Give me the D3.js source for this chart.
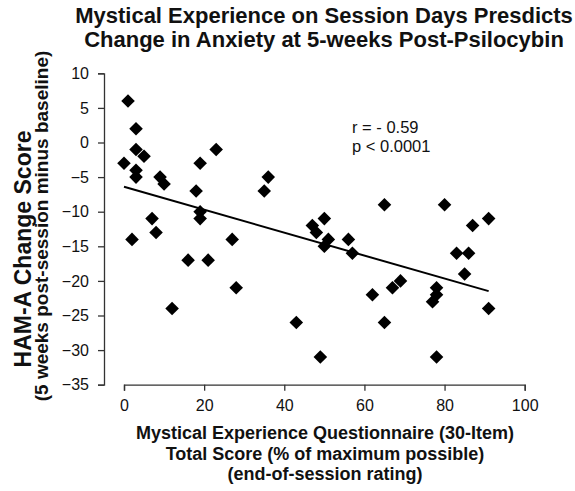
<!DOCTYPE html>
<html>
<head>
<meta charset="utf-8">
<script src="https://cdn.jsdelivr.net/npm/d3@7"></script>
<style>
  body { margin: 0; background: #fff; }
  text { font-family: "Liberation Sans", Arial, sans-serif; fill: #111; }
</style>
</head>
<body>
<div id="chart"></div>
<script>
// MEQ total score (% of max) and HAM-A change score, one entry per participant
const meqScore = [0, 1, 2, 3, 3, 3, 3, 5, 7, 8, 9, 10, 12, 16, 18, 19, 19, 19, 21, 23,
                  27, 28, 35, 36, 43, 47, 48, 49, 50, 50, 51, 56, 57, 62, 65, 65, 67, 69,
                  77, 78, 78, 78, 80, 83, 85, 86, 87, 91, 91]
const hamChange = [-3, 6, -14, 2, -1, -4, -5, -2, -11, -13, -5, -6, -24, -17, -7, -3, -10, -11, -17, -1,
                   -14, -21, -7, -5, -26, -12, -13, -31, -11, -15, -14, -14, -16, -22, -9, -26, -21, -20,
                   -23, -21, -22, -31, -9, -16, -19, -16, -12, -11, -24]
const xTicks = [0, 20, 40, 60, 80, 100]
const yTicks = [10, 5, 0, -5, -10, -15, -20, -25, -30, -35]
const fitIntercept = -6.4
const fitSlope = -0.1657
const statsText = ['r = - 0.59', 'p < 0.0001']

const width = 575
const height = 491

const svg = d3.select('#chart').append('svg')
              .attr('width', width)
              .attr('height', height)

const x = d3.scaleLinear().domain([0, 100]).range([124, 524.7])
const y = d3.scaleLinear().domain([-35, 10]).range([384.7, 73.3])

// axes
const xAxis = svg.append('g')
    .attr('transform', `translate(0,${y(-35)})`)
    .call(d3.axisBottom(x).tickValues(xTicks).tickSize(6).tickPadding(9))
const yAxis = svg.append('g')
    .attr('transform', 'translate(104,0)')
    .call(d3.axisLeft(y).tickValues(yTicks).tickSize(6).tickPadding(9))

svg.selectAll('.domain, .tick line')
   .attr('stroke', '#333')
   .attr('stroke-width', 1.3)
svg.selectAll('.tick text')
   .attr('font-size', 16)
   .attr('font-family', '"Liberation Sans", Arial, sans-serif')
   .attr('fill', '#111')

// points
const pts = meqScore.map((d, i) => ({ x: d, y: hamChange[i] }))
svg.append('g').selectAll('path')
   .data(pts)
   .join('path')
   .attr('d', d3.symbol(d3.symbolSquare, 92))
   .attr('transform', d => `translate(${x(d.x)},${y(d.y)}) rotate(45)`)
   .attr('fill', '#000')

// regression line
const xExt = d3.extent(meqScore)
const fitPts = xExt.map(v => [v, fitIntercept + fitSlope * v])
svg.append('path')
   .datum(fitPts)
   .attr('d', d3.line().x(d => x(d[0])).y(d => y(d[1])))
   .attr('stroke', '#000')
   .attr('stroke-width', 2)
   .attr('fill', 'none')

// r / p annotation
svg.append('g').selectAll('text')
   .data(statsText)
   .join('text')
   .attr('x', 352)
   .attr('y', (d, i) => 133 + i * 19)
   .attr('font-size', 16.5)
   .text(d => d)

// title
const titleLines = ['Mystical Experience on Session Days Presdicts', 'Change in Anxiety at 5-weeks Post-Psilocybin']
svg.append('g').selectAll('text')
   .data(titleLines)
   .join('text')
   .attr('x', 324)
   .attr('y', (d, i) => 23 + i * 24)
   .attr('text-anchor', 'middle')
   .attr('font-size', 22)
   .attr('font-weight', 'bold')
   .text(d => d)

// x title
const xTitle = ['Mystical Experience Questionnaire (30-Item)', 'Total Score (% of maximum possible)', '(end-of-session rating)']
svg.append('g').selectAll('text')
   .data(xTitle)
   .join('text')
   .attr('x', 325)
   .attr('y', (d, i) => 439 + i * 20.5)
   .attr('text-anchor', 'middle')
   .attr('font-size', 18)
   .attr('font-weight', 'bold')
   .text(d => d)

// y title
svg.append('text')
   .attr('transform', 'translate(31,249) rotate(-90)')
   .attr('text-anchor', 'middle')
   .attr('font-size', 23)
   .attr('font-weight', 'bold')
   .text('HAM-A Change Score')
svg.append('text')
   .attr('transform', 'translate(48,226) rotate(-90)')
   .attr('text-anchor', 'middle')
   .attr('font-size', 19)
   .attr('font-weight', 'bold')
   .text('(5 weeks post-session minus baseline)')
</script>
</body>
</html>
